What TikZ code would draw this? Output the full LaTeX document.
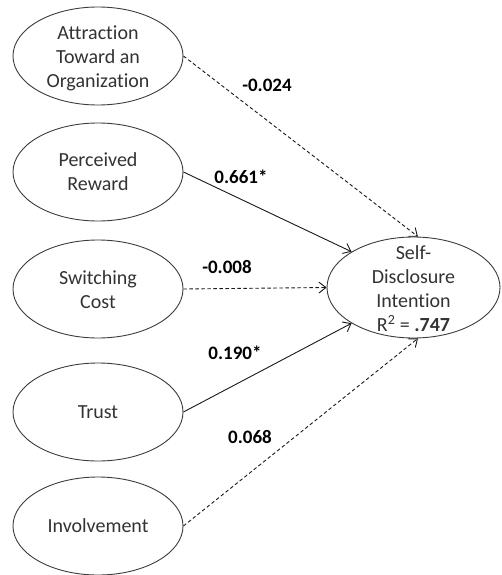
\documentclass[tikz,border=0pt]{standalone}
\usepackage{fontspec}
\setmainfont{Carlito}[Ligatures=NoCommon]
\usetikzlibrary{arrows.meta,shapes.geometric}
\definecolor{edgegray}{HTML}{3C3C3C}
\definecolor{txtgray}{HTML}{333333}
\tikzset{
  latent/.style={ellipse,draw=edgegray,line width=0.9pt,minimum width=170pt,minimum height=98pt,inner sep=0pt},
  latentR/.style={ellipse,draw=edgegray,line width=0.9pt,minimum width=173pt,minimum height=101pt,inner sep=0pt},
  lbl/.style={align=center,font=\fontsize{20pt}{24pt}\selectfont,text=txtgray,inner sep=0pt},
  coef/.style={font=\fontsize{19pt}{24pt}\selectfont\bfseries,text=black,inner sep=0pt},
  path/.style={draw=black!90,line width=0.9pt,-{Straight Barb[length=7pt,width=11pt,line width=0.9pt]}},
  nspath/.style={path,dash pattern=on 3.5pt off 2.5pt}
}
\begin{document}
\begin{tikzpicture}[x=1pt,y=-1pt]
\useasboundingbox (0,0) rectangle (502,575);
\fill[white] (0,0) rectangle (502,575);
% exogenous constructs
\node[latent] (att) at (98,56) {};
\node[lbl] (attT) at (98,58) {Attraction\\Toward an\\Organization};
\node[latent] (rew) at (98,172) {};
\node[lbl] (rewT) at (rew) {Perceived\\Reward};
\node[latent] (swc) at (98,289) {};
\node[lbl] (swcT) at (98,290) {Switching\\Cost};
\node[latent] (tru) at (98,412) {};
\node[lbl] (truT) at (tru) {Trust};
\node[latent] (inv) at (98,526) {};
\node[lbl] (invT) at (inv) {Involvement};
% endogenous construct
\node[latentR] (sdi) at (413.5,287.5) {};
\node[lbl] (sdiT) at (413.5,289) {Self-\\Disclosure\\Intention\\R\textsuperscript{2} = \textbf{.747}};
% paths
\draw[nspath] (att.east) -- (sdi.85);
\draw[path] (rew.east) -- (sdi.150);
\draw[nspath] (swc.east) -- (sdi.west);
\draw[path] (tru.east) -- (sdi.210);
\draw[nspath] (inv.east) -- (sdi.275);
% coefficients
\node[coef] (c1) at (267,85) {-0.024};
\node[coef] (c2) at (241,177) {0.661*};
\node[coef] (c3) at (227,267) {-0.008};
\node[coef] (c4) at (235,353) {0.190*};
\node[coef] (c5) at (250,437) {0.068};
\end{tikzpicture}
\end{document}
